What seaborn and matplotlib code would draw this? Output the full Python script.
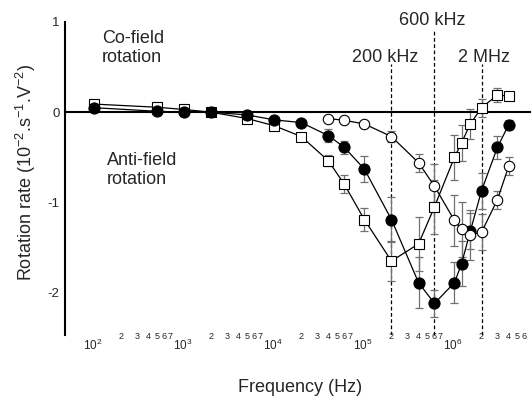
import numpy as np
import pandas as pd
import matplotlib
matplotlib.use("Agg")
import matplotlib.pyplot as plt
import matplotlib.transforms as mtransforms
import seaborn as sns
from matplotlib.ticker import FixedLocator, FixedFormatter

# ---------------- data ----------------
freq = [1e2, 5e2, 1e3, 2e3, 5e3, 1e4, 2e4, 4e4, 6e4, 1e5, 2e5, 4e5, 6e5,
        1e6, 1.2e6, 1.5e6, 2e6, 3e6, 4e6]
square_rate = [0.09, 0.055, 0.03, 0.0, -0.07, -0.15, -0.27, -0.54, -0.80, -1.19,
               -1.65, -1.46, -1.05, -0.50, -0.34, -0.13, 0.05, 0.19, 0.18]
square_err = [0.04, 0.03, 0.03, 0.03, 0.03, 0.03, 0.04, 0.06, 0.10, 0.13,
              0.22, 0.30, 0.30, 0.25, 0.20, 0.17, 0.10, 0.08, 0.04]
filled_rate = [0.05, 0.01, 0.0, 0.0, -0.03, -0.085, -0.115, -0.26, -0.39, -0.63,
               -1.19, -1.89, -2.12, -1.89, -1.68, -1.32, -0.87, -0.39, -0.14]
filled_err = [0.02, 0.02, 0.02, 0.02, 0.02, 0.02, 0.03, 0.07, 0.07, 0.14,
              0.25, 0.28, 0.15, 0.23, 0.25, 0.20, 0.20, 0.13, 0.05]
freq_open = [4e4, 6e4, 1e5, 2e5, 4e5, 6e5, 1e6, 1.2e6, 1.5e6, 2e6, 3e6, 4e6]
open_rate = [-0.07, -0.09, -0.13, -0.27, -0.56, -0.82, -1.20, -1.30, -1.36,
             -1.33, -0.97, -0.60]
open_err = [0.02, 0.02, 0.03, 0.06, 0.10, 0.25, 0.28, 0.30, 0.28, 0.20, 0.10, 0.10]

marker_freqs = [2e5, 6e5, 2e6]
marker_labels = ["200 kHz", "600 kHz", "2 MHz"]
marker_tops = [0.53, 0.92, 0.53]

major_ticks = [1e2, 1e3, 1e4, 1e5, 1e6]
major_labels = ["$10^{2}$", "$10^{3}$", "$10^{4}$", "$10^{5}$", "$10^{6}$"]
y_ticks = [1, 0, -1, -2]
y_labels = ["1", "0", "-1", "-2"]

# ---------------- style ----------------
sns.set_style("white")
plt.rcParams["font.family"] = ["Liberation Sans", "DejaVu Sans"]
plt.rcParams["mathtext.fontset"] = "custom"
plt.rcParams["mathtext.rm"] = "Liberation Sans"
plt.rcParams["mathtext.it"] = "Liberation Sans:italic"
plt.rcParams["mathtext.default"] = "regular"

XMIN, XMAX = 47.6, 6.9e6
YMIN, YMAX = -2.47, 1.0

fig = plt.figure(figsize=(5.32, 3.97), dpi=100)
ax = fig.add_axes([65 / 532, 1 - 335 / 397, 465 / 532, 313 / 397])
ax.set_xscale("log")

err_kw = dict(fmt="none", ecolor="#707070", elinewidth=0.9, capsize=3, capthick=0.9)
ax.errorbar(freq, square_rate, yerr=square_err, zorder=2, **err_kw)
ax.errorbar(freq, filled_rate, yerr=filled_err, zorder=2, **err_kw)
ax.errorbar(freq_open, open_rate, yerr=open_err, zorder=2, **err_kw)

df_sq = pd.DataFrame({"f": freq, "r": square_rate})
df_fc = pd.DataFrame({"f": freq, "r": filled_rate})
df_oc = pd.DataFrame({"f": freq_open, "r": open_rate})

sns.lineplot(data=df_sq, x="f", y="r", ax=ax, color="black", linewidth=0.9,
             marker="s", markersize=7, markerfacecolor="white",
             markeredgecolor="black", markeredgewidth=0.8, zorder=3)
sns.lineplot(data=df_fc, x="f", y="r", ax=ax, color="black", linewidth=0.9,
             marker="o", markersize=8, markerfacecolor="black",
             markeredgecolor="black", markeredgewidth=0.8, zorder=4)
sns.lineplot(data=df_oc, x="f", y="r", ax=ax, color="black", linewidth=0.9,
             marker="o", markersize=7.5, markerfacecolor="white",
             markeredgecolor="black", markeredgewidth=0.8, zorder=5)

ax.set_xlim(XMIN, XMAX)
ax.set_ylim(YMIN, YMAX)

# dashed frequency markers
ax.vlines(marker_freqs, ymin=YMIN, ymax=marker_tops, colors="black",
          linestyles=(0, (3, 2)), linewidth=0.9, zorder=1)
label_x = [1.71e5, 5.62e5, 2.15e6]
label_y = [0.605, 1.017, 0.605]
for lx, ly, lab in zip(label_x, label_y, marker_labels):
    ax.text(lx, ly, lab, ha="center", va="center", fontsize=13, clip_on=False)

ax.text(0.0796, 0.917, "Co-field\nrotation", transform=ax.transAxes,
        ha="left", va="center", fontsize=13, linespacing=1.1)
ax.text(0.09, 0.527, "Anti-field\nrotation", transform=ax.transAxes,
        ha="left", va="center", fontsize=13, linespacing=1.1)

# spines
for s in ["top", "right"]:
    ax.spines[s].set_visible(False)
ax.spines["bottom"].set_position(("data", 0))
for s in ["bottom", "left"]:
    ax.spines[s].set_linewidth(1.5)
    ax.spines[s].set_color("black")

# x ticks
ax.xaxis.set_major_locator(FixedLocator(major_ticks))
ax.xaxis.set_major_formatter(FixedFormatter(major_labels))
minor_ticks = []
minor_labels = []
for dec in [1e1, 1e2, 1e3, 1e4, 1e5, 1e6]:
    for m in range(2, 10):
        v = m * dec
        if XMIN <= v <= XMAX:
            minor_ticks.append(v)
            minor_labels.append(str(m) if (m <= 7 and v >= 200) else "")
ax.xaxis.set_minor_locator(FixedLocator(minor_ticks))
ax.xaxis.set_minor_formatter(FixedFormatter(minor_labels))
ax.tick_params(axis="x", which="major", direction="in", length=4, width=1,
               pad=162.5, labelsize=8.5, color="black")
ax.tick_params(axis="x", which="minor", direction="in", length=2.2, width=0.8,
               pad=158, labelsize=6.5, color="black")

ax.set_yticks(y_ticks)
ax.set_yticklabels(y_labels)
ax.tick_params(axis="y", direction="in", length=3, width=1, labelsize=9.5,
               pad=4, color="black")

ax.set_xlabel("Frequency (Hz)", fontsize=13, va="top")
ax.xaxis.set_label_coords(0.505, -0.141)
ax.set_ylabel("Rotation rate (10$^{-2}$.s$^{-1}$.V$^{-2}$)", fontsize=13, va="center")
ax.yaxis.set_label_coords(-0.085, 0.52)

# decade labels sit slightly left of their ticks, as in the reference
shift = mtransforms.ScaledTranslation(-1.5 / 100, 0, fig.dpi_scale_trans)
for lbl in ax.xaxis.get_majorticklabels():
    lbl.set_transform(lbl.get_transform() + shift)

fig.savefig("out.png", dpi=100)
